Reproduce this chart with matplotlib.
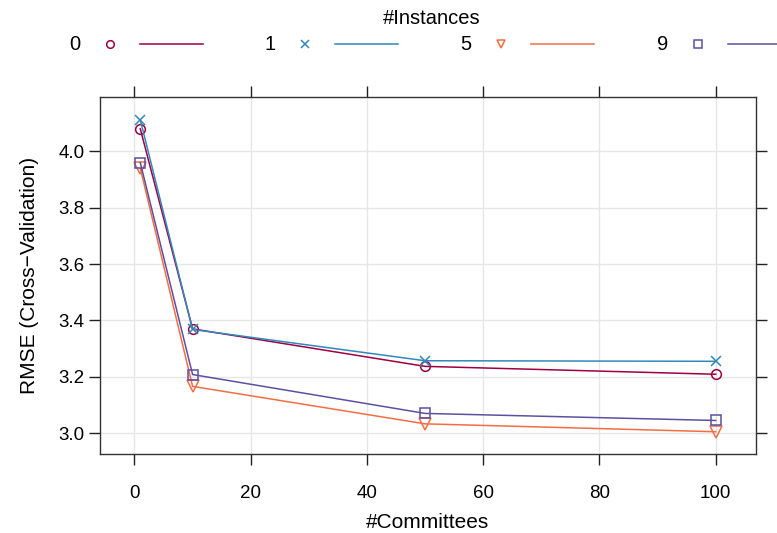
import matplotlib
matplotlib.use("Agg")
import matplotlib.pyplot as plt
from matplotlib.lines import Line2D

plt.rcParams['font.family'] = ['Liberation Sans', 'DejaVu Sans']

committees = [1, 10, 50, 100]
instances = ["0", "1", "5", "9"]
rmse_0 = [4.080, 3.370, 3.237, 3.209]
rmse_1 = [4.112, 3.368, 3.257, 3.255]
rmse_5 = [3.940, 3.166, 3.033, 3.005]
rmse_9 = [3.960, 3.208, 3.070, 3.045]
series = [rmse_0, rmse_1, rmse_5, rmse_9]
colors = ['#9E0142', '#3288BD', '#F46D43', '#5E4FA2']
markers = ['o', 'x', 'v', 's']
msizes = [7, 7, 8.5, 6.5]
xticks = [0, 20, 40, 60, 80, 100]
yticks = [3.0, 3.2, 3.4, 3.6, 3.8, 4.0]

fig = plt.figure(figsize=(7.77, 5.33), dpi=100)
W, H = 777, 533
ax = fig.add_axes([100 / W, (H - 454) / H, 656 / W, 357 / H])

for vals, c, m, ms in zip(series, colors, markers, msizes):
    ax.plot(committees, vals, color=c, lw=1.1, marker=m, markersize=ms,
            markerfacecolor='none', markeredgecolor=c, markeredgewidth=1.1)

ax.set_xlim(-5.93, 106.93)
ax.set_ylim(2.926, 4.193)
ax.set_xticks(xticks)
ax.set_yticks(yticks)
ax.set_yticklabels([f"{v:.1f}" for v in yticks])
ax.grid(True, color='#E6E6E6', lw=1.0)
ax.set_axisbelow(True)
for s in ax.spines.values():
    s.set_color('#333333')
    s.set_linewidth(1.0)
ax.tick_params(direction='out', length=8, width=1.0, color='#222222',
               labelsize=13.5, top=True, right=True)
ax.tick_params(axis='y', pad=3)
ax.tick_params(axis='x', pad=14)
ax.set_xlabel('#Committees', fontsize=15, labelpad=8)
ax.set_ylabel('RMSE (Cross\u2212Validation)', fontsize=15, labelpad=14)

# legend (lattice-style key on top)
fig.text(432 / W, 1 - 18 / H, '#Instances', ha='center', va='center', fontsize=14.5)
label_x = [75, 270, 466, 663]
for lab, lx, c, m in zip(instances, label_x, colors, markers):
    yy = 1 - 44 / H
    fig.text(lx / W, yy, lab, ha='center', va='center', fontsize=14.5)
    fig.add_artist(Line2D([(lx + 35) / W], [yy], marker=m, color=c, markersize=5.5,
                          markerfacecolor='none', markeredgewidth=1.1,
                          transform=fig.transFigure))
    fig.add_artist(Line2D([(lx + 65) / W, (lx + 128) / W], [yy, yy], color=c, lw=1.1,
                          transform=fig.transFigure))

fig.savefig('out.png', dpi=100)
